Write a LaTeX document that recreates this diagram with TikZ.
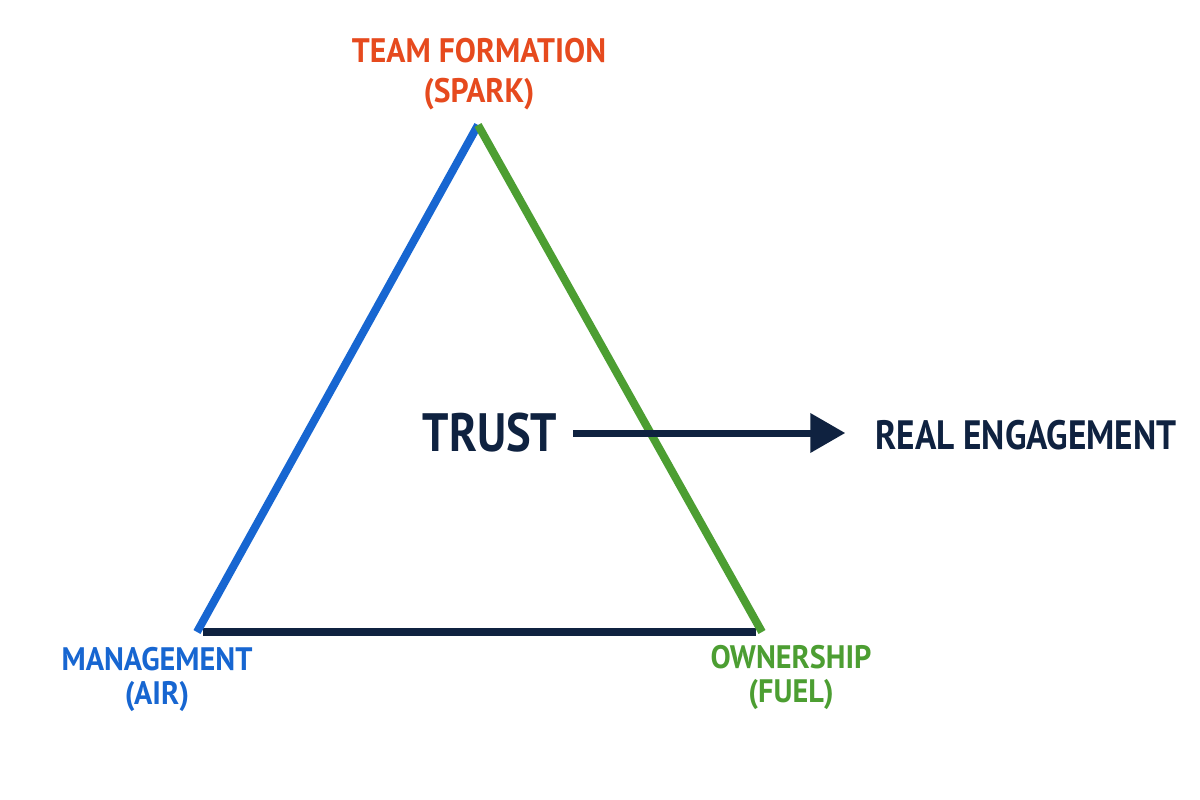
\documentclass[tikz,border=0pt]{standalone}
\usepackage{fontspec}
\setmainfont{PT Sans}[FakeStretch=0.86]
\newfontfamily\etiquette{PT Sans}[FakeStretch=0.93]
\usetikzlibrary{arrows.meta}
\definecolor{sparkred}{HTML}{E64A1E}
\definecolor{airblue}{HTML}{1766D1}
\definecolor{fuelgreen}{HTML}{4C9E32}
\definecolor{navy}{HTML}{0F2240}
\tikzstyle{coin} = [font=\etiquette\bfseries\fontsize{32.5}{34}\selectfont, align=center, inner sep=0pt]
\tikzstyle{cote} = [line width=8pt, line cap=butt]

\begin{document}
\begin{tikzpicture}[x=1pt, y=-1pt]
                \useasboundingbox (0,0) rectangle (1200,800);
                \fill[white] (0,0) rectangle (1200,800);

                \coordinate (apex) at (478,125);
                \coordinate (gauche) at (197,632);
                \coordinate (droite) at (762,632);

                \draw [cote, navy] ([xshift=6pt]gauche) -- ([xshift=-6pt]droite);
                \draw [cote, airblue] (gauche) -- (apex);
                \draw [cote, fuelgreen] (apex) -- (droite);

                \node [coin, text=sparkred, font=\etiquette\bfseries\fontsize{34}{40}\selectfont] (spark) at (479,74) {TEAM FORMATION\\(SPARK)};
                \node [coin, text=airblue] (air) at (157,679) {MANAGEMENT\\(AIR)};
                \node [coin, text=fuelgreen] (fuel) at (791,677) {OWNERSHIP\\(FUEL)};

                \node [inner sep=0pt, text=navy, font=\bfseries\fontsize{54}{60}\selectfont] (trust) at (490,433) {TRUST};
                \node [inner sep=0pt, text=navy, font=\bfseries\fontsize{41}{46}\selectfont] (engage) at (1026,435) {REAL ENGAGEMENT};

                \draw [navy, line width=7pt, -{Triangle[length=35pt,width=38pt]}, shorten <=16pt, shorten >=30pt] (trust) -- (trust -| engage.west);
            \end{tikzpicture}
\end{document}
